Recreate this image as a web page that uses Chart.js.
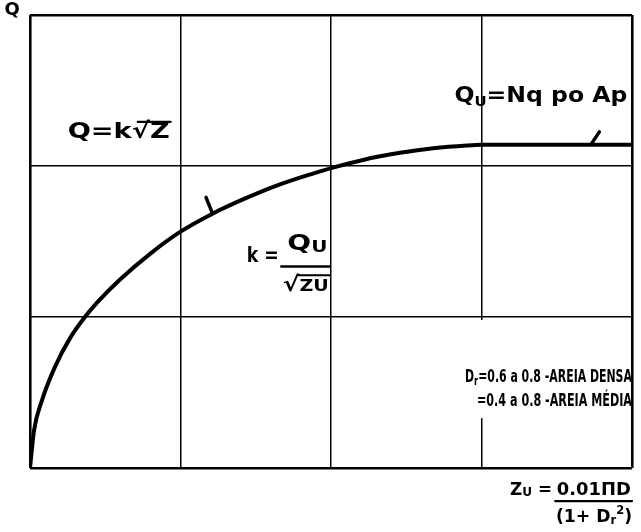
<!DOCTYPE html>
<html>
<head>
<meta charset="utf-8">
<script src="https://cdn.jsdelivr.net/npm/chart.js@4/dist/chart.umd.min.js"></script>
<style>
  html, body { margin: 0; background: #fff; }
  #wrap { width: 641px; height: 532px; }
</style>
</head>
<body>
<div id="wrap"><canvas id="loadCurve"></canvas></div>
<script>
// z in grid units (zu reached at z = 3), Q in grid units
const depthZ = [0, 0.027, 0.08, 0.166, 0.266, 0.365, 0.45, 0.6, 0.8, 1.0, 1.216, 1.442, 1.661, 1.88, 2.007, 2.213, 2.326, 2.458, 2.678, 2.904, 3.0, 4.0];
const loadQ  = [0, 0.25, 0.45, 0.67, 0.86, 1.0, 1.1, 1.25, 1.42, 1.565, 1.686, 1.79, 1.878, 1.95, 1.988, 2.04, 2.064, 2.088, 2.118, 2.136, 2.14, 2.14];

const zTicks = [0, 1, 2, 3, 4];
const qTicks = [0, 1, 2, 3];

const FONT = '"DejaVu Sans", sans-serif';

// draws a row of text pieces [text, size, dy] squeezed to the given width,
// returns the left/right pixel of every piece
function drawRun(ctx, parts, x, y, width) {
    ctx.save();
    let natural = 0;
    const widths = parts.map(p => {
        ctx.font = `bold ${p[1]}px ${FONT}`;
        const w = ctx.measureText(p[0]).width;
        natural += w;
        return w;
    });
    const sx = width ? width / natural : 1;
    ctx.translate(x, y);
    ctx.scale(sx, 1);
    ctx.textBaseline = 'middle';
    ctx.textAlign = 'left';
    let cx = 0;
    const spans = [];
    parts.forEach((p, i) => {
        ctx.font = `bold ${p[1]}px ${FONT}`;
        ctx.fillText(p[0], cx, p[2] || 0);
        spans.push([x + cx * sx, x + (cx + widths[i]) * sx]);
        cx += widths[i];
    });
    ctx.restore();
    return spans;
}

function line(ctx, x1, y1, x2, y2, w) {
    ctx.beginPath();
    ctx.lineWidth = w;
    ctx.moveTo(x1, y1);
    ctx.lineTo(x2, y2);
    ctx.stroke();
}

const formulaLabels = {
    id: 'formulaLabels',
    afterDraw(chart) {
        const ctx = chart.ctx;
        const xs = chart.scales.x, ys = chart.scales.y;
        const px = v => xs.getPixelForValue(v);
        const py = v => ys.getPixelForValue(v);
        ctx.save();
        ctx.fillStyle = '#000';
        ctx.strokeStyle = '#000';
        ctx.lineCap = 'round';

        // axis letter
        drawRun(ctx, [['Q', 18]], px(-0.17), py(3.03));

        // Q = k sqrt(z)
        let s = drawRun(ctx, [['Q=k', 22], ['√', 22], ['Z', 22]], px(0.25), py(2.22), 102);
        line(ctx, s[1][0] + 6, py(2.22) - 11, s[2][1] + 1, py(2.22) - 11, 2.2);

        // Qu = Nq po Ap
        drawRun(ctx, [['Q', 22], ['U', 14, 6], ['=Nq po Ap', 22]], px(2.82), py(2.46), 173);

        // k = Qu / sqrt(zu)
        drawRun(ctx, [['k =', 21]], px(1.44), py(1.40), 32);
        drawRun(ctx, [['Q', 21], ['U', 15, 4]], px(1.71), py(1.48), 40);
        line(ctx, px(1.67), py(1.335), px(1.99), py(1.335), 2.5);
        s = drawRun(ctx, [['√', 21], ['ZU', 16, 2]], px(1.68), py(1.21), 46);
        line(ctx, s[0][1] - 2, py(1.21) - 10, s[1][1] + 1, py(1.21) - 10, 2);

        // relative density notes, the grid is interrupted behind them
        ctx.fillStyle = '#fff';
        ctx.fillRect(px(2.86), py(0.98), px(3.97) - px(2.86), py(0.33) - py(0.98));
        ctx.fillStyle = '#000';
        drawRun(ctx, [['D', 17], ['r', 13, 4], ['=0.6 a 0.8 -AREIA DENSA', 17]], px(2.89), py(0.60), 167);
        drawRun(ctx, [['=0.4 a 0.8 -AREIA MÉDIA', 17]], px(2.97), py(0.44), 155);

        // zu = 0.01 pi D / (1 + Dr^2)
        drawRun(ctx, [['Z', 18], ['U', 13, 3], [' =', 18]], px(3.19), py(-0.146), 42);
        drawRun(ctx, [['0.01ΠD', 18]], px(3.50), py(-0.146), 74);
        line(ctx, px(3.49), py(-0.22), px(4.0), py(-0.22), 2.2);
        drawRun(ctx, [['(1+ D', 18], ['r', 12, 4], ['2', 12, -6], [')', 18]], px(3.495), py(-0.325), 76);

        // pointer strokes on the curve
        const pts = chart.getDatasetMeta(0).data;
        const p = pts[10];
        line(ctx, p.x - 1, p.y - 1, p.x - 7, p.y - 16, 3.5);
        const yPlat = pts[pts.length - 1].y;
        line(ctx, px(3.73), yPlat - 1, px(3.73) + 8, yPlat - 13, 3.5);

        ctx.restore();
    }
};

const edgeWidth = (ctx, n) => (ctx.index === 0 || ctx.index === n - 1) ? 2.6 : 1.5;

new Chart(document.getElementById('loadCurve'), {
    type: 'line',
    data: {
        datasets: [{
            data: depthZ.map((z, i) => ({ x: z, y: loadQ[i] })),
            borderColor: '#000',
            borderWidth: 4,
            pointRadius: 0,
            cubicInterpolationMode: 'monotone',
            fill: false
        }]
    },
    options: {
        responsive: true,
        maintainAspectRatio: false,
        animation: false,
        devicePixelRatio: 1,
        layout: { padding: { left: 30, top: 15, right: 9, bottom: 64 } },
        plugins: { legend: { display: false }, tooltip: { enabled: false } },
        scales: {
            x: {
                type: 'linear',
                min: zTicks[0],
                max: zTicks[zTicks.length - 1],
                afterBuildTicks: axis => { axis.ticks = zTicks.map(v => ({ value: v })); },
                ticks: { display: false },
                border: { display: false },
                grid: { color: '#000', drawTicks: false, lineWidth: c => edgeWidth(c, zTicks.length) }
            },
            y: {
                type: 'linear',
                min: qTicks[0],
                max: qTicks[qTicks.length - 1],
                afterBuildTicks: axis => { axis.ticks = qTicks.map(v => ({ value: v })); },
                ticks: { display: false },
                border: { display: false },
                grid: { color: '#000', drawTicks: false, lineWidth: c => edgeWidth(c, qTicks.length) }
            }
        }
    },
    plugins: [formulaLabels]
});
</script>
</body>
</html>
